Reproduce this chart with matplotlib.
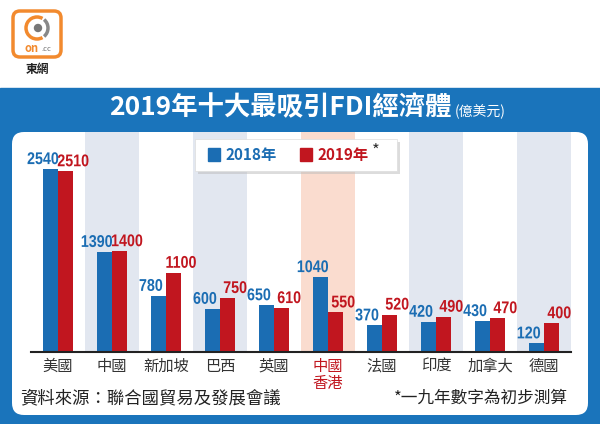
import matplotlib.pyplot as plt
from matplotlib.patches import FancyBboxPatch, Rectangle, Circle, Arc, PathPatch
from matplotlib.textpath import TextPath
from matplotlib.font_manager import FontProperties
from matplotlib.transforms import Affine2D, IdentityTransform

plt.rcParams['font.family'] = ['Noto Sans CJK TC', 'DejaVu Sans']

categories = ['美國', '中國', '新加坡', '巴西', '英國', '中國\n香港', '法國', '印度', '加拿大', '德國']
fdi_2018 = [2540, 1390, 780, 600, 650, 1040, 370, 420, 430, 120]
fdi_2019 = [2510, 1400, 1100, 750, 610, 550, 520, 490, 470, 400]

BLUE = '#1b6db3'
RED = '#c1161f'
BAND = '#1a74bb'

fig = plt.figure(figsize=(6, 4.24), dpi=100)


def pixel_axes():
    a = fig.add_axes([0, 0, 1, 1])
    a.set_xlim(0, 600)
    a.set_ylim(424, 0)
    a.axis('off')
    a.patch.set_alpha(0)
    return a


def narrow_label(ax, x, y, s, color, em=17, squeeze=0.84):
    # condensed bold number drawn as a squeezed text path (display pixels)
    tp = TextPath((0, 0), s, size=1, prop=FontProperties(family='Liberation Sans', weight='bold'))
    bb = tp.get_extents()
    px, py = ax.transData.transform((x, y))
    tr = Affine2D().translate(-(bb.x0 + bb.x1) / 2, 0).scale(em * squeeze, em).translate(px, py + 5)
    p = PathPatch(tr.transform_path(tp), fc=color, ec='none',
                  transform=IdentityTransform(), zorder=3)
    ax.add_artist(p)
    p.set_clip_on(False)


# background layer in pixel coordinates
bg = pixel_axes()
bg.add_patch(Rectangle((0, 88), 600, 336, color=BAND, zorder=0))
bg.add_patch(FancyBboxPatch((12, 132), 576, 283, boxstyle='round,pad=0,rounding_size=12',
                            fc='white', ec='none', zorder=1))

# logo
bg.add_patch(FancyBboxPatch((13, 11), 48, 46, boxstyle='round,pad=0,rounding_size=7',
                            fc='white', ec='#f28a2e', lw=2.5, zorder=2))
bg.add_patch(Arc((37, 28), 22, 22, theta1=60, theta2=300, ec='#f28a2e', lw=2.5, zorder=3))
bg.add_patch(Arc((37, 28), 22, 22, theta1=-50, theta2=50, ec='#888888', lw=2.5, zorder=3))
bg.add_patch(Circle((38, 28), 3.5, color='#777777', zorder=3))
bg.text(32, 48, 'on', color='#f28a2e', fontsize=8, fontweight='bold', ha='center', va='center', zorder=3)
bg.text(46, 49, '.cc', color='#777777', fontsize=5.5, ha='center', va='center', zorder=3)
bg.text(37, 69, '東網', color='#222222', fontsize=8.5, fontweight='bold', ha='center', va='center', zorder=3)

# title
bg.text(452, 108, '2019年十大最吸引FDI經濟體', color='white', fontsize=19, fontweight='bold',
        ha='right', va='center', zorder=3)
bg.text(455, 112, '(億美元)', color='white', fontsize=10, ha='left', va='center', zorder=3)

# main chart
ax = fig.add_axes([31 / 600, 1 - 352 / 424, 540 / 600, 220 / 424])
ax.set_xlim(-0.5, len(categories) - 0.5)
ax.set_ylim(0, 3055)
ax.patch.set_alpha(0)
for i in range(len(categories)):
    if i % 2 == 1:
        col = '#fadccf' if i == 5 else '#e2e7f0'
        ax.axvspan(i - 0.5, i + 0.5, color=col, lw=0, zorder=0)

w = 0.27
x = list(range(len(categories)))
ax.bar([i - w / 2 for i in x], fdi_2018, width=w, color=BLUE, zorder=2)
ax.bar([i + w / 2 for i in x], fdi_2019, width=w, color=RED, zorder=2)
for i in x:
    narrow_label(ax, i - 0.28, fdi_2018[i], str(fdi_2018[i]), BLUE)
    narrow_label(ax, i + 0.28, fdi_2019[i], str(fdi_2019[i]), RED)

for s in ['top', 'right', 'left']:
    ax.spines[s].set_visible(False)
ax.spines['bottom'].set_linewidth(1.5)
ax.spines['bottom'].set_color('#222222')
ax.set_yticks([])
ax.set_xticks(x)
ax.set_xticklabels(categories, fontsize=11, color='#333333', linespacing=1.05)
ax.tick_params(axis='x', length=0, pad=4)
ax.get_xticklabels()[5].set_color(RED)

# legend box on top
fg = pixel_axes()
fg.add_patch(Rectangle((198, 142), 202, 32, fc='#bbbbbb', ec='none', zorder=4, alpha=0.5))
fg.add_patch(Rectangle((195, 139), 202, 32, fc='white', ec='#dddddd', lw=0.5, zorder=5))
fg.add_patch(Rectangle((208, 148), 12, 13, color=BLUE, zorder=6))
fg.text(225, 155, '2018年', color=BLUE, fontsize=11, fontweight='bold', va='center', zorder=6)
fg.add_patch(Rectangle((300, 148), 12, 13, color=RED, zorder=6))
fg.text(317, 155, '2019年', color=RED, fontsize=11, fontweight='bold', va='center', zorder=6)
fg.text(372, 151, '*', color='#333333', fontsize=12, va='center', zorder=6)

# footer
fg.text(20, 398, '資料來源：聯合國貿易及發展會議', color='#222222', fontsize=12.5, va='center', zorder=3)
fg.text(568, 398, '*一九年數字為初步測算', color='#222222', fontsize=12, ha='right', va='center', zorder=3)

fig.savefig('out.png', dpi=100)
